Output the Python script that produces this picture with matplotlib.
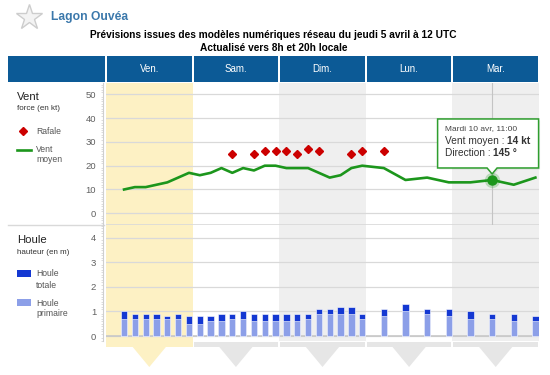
"""
Prévisions vent / houle - Lagon Ouvéa (recreation of the meteo widget).
"""

import numpy as np
import matplotlib.pyplot as plt
from matplotlib.patches import Rectangle, Polygon
from matplotlib.ticker import MultipleLocator

plt.rcParams['font.family'] = ['Liberation Sans', 'DejaVu Sans']

W, H = 550, 375

days = ['Ven.', 'Sam.', 'Dim.', 'Lun.', 'Mar.']
day_colors = ['#fdf1c4', 'white', '#efefef', 'white', '#efefef']

# forecast times, hours since Friday 00:00 local
hours = [5, 8, 11, 14, 17, 20, 23, 26, 29, 32, 35, 38, 41, 44, 47, 50,
         53, 56, 59, 62, 65, 68, 71, 77, 83, 89, 95, 101, 107, 113, 119]

wind = [10, 11, 11, 12, 13, 15, 17, 16, 17, 19, 17, 19, 18, 20, 20, 19,
        19, 19, 17, 15, 16, 19, 20, 19, 14, 15, 13, 13, 14, 12, 15]

nan = np.nan
gust = [nan, nan, nan, nan, nan, nan, nan, nan, nan, nan, 25, nan, 25, 26, 26, 26,
        25, 27, 26, nan, nan, 25, 26, 26, nan, nan, nan, nan, nan, nan, nan]

swell_total = [1.0, 0.9, 0.9, 0.9, 0.8, 0.9, 0.8, 0.8, 0.8, 0.9, 0.9, 1.0, 0.9, 0.9, 0.9, 0.9,
               0.9, 0.9, 1.1, 1.1, 1.2, 1.2, 0.9, 1.1, 1.3, 1.1, 1.1, 1.0, 0.9, 0.9, 0.8]
swell_primary = [0.7, 0.7, 0.7, 0.7, 0.7, 0.7, 0.5, 0.5, 0.6, 0.6, 0.7, 0.7, 0.6, 0.6, 0.6, 0.6,
                 0.6, 0.7, 0.9, 0.9, 0.9, 0.9, 0.7, 0.8, 1.0, 0.9, 0.8, 0.7, 0.7, 0.6, 0.6]

tip_hour = 107
tip_label = 'Mardi 10 avr, 11:00'
tip_direction = 145

HDR = '#0c5a96'
GREEN = '#1c961c'
RED = '#cc0000'
DARK = '#1438d2'
LIGHT = '#8c9fe8'
GRID = '#d9d9d9'
FOOT = '#e6e6e6'


def box(x0, y0, x1, y1):
    # pixel box (top-left origin) -> figure fraction
    return [x0 / W, 1 - y1 / H, (x1 - x0) / W, (y1 - y0) / H]


fig = plt.figure(figsize=(W / 100, H / 100), dpi=100)

bg = fig.add_axes([0, 0, 1, 1], zorder=-1)
bg.set_xlim(0, W)
bg.set_ylim(H, 0)
bg.axis('off')

X0, X1 = 106, 539
ax_head = fig.add_axes(box(X0, 56, X1, 82))
ax_w = fig.add_axes(box(X0, 83, X1, 225))
ax_h = fig.add_axes(box(X0, 225, X1, 341))
ax_f = fig.add_axes(box(X0, 341, X1, 368))

g = 0.28  # ~1px gap between day columns, in hours

# header row
ax_head.set_xlim(0, 120)
ax_head.set_ylim(0, 1)
ax_head.axis('off')
for i, d in enumerate(days):
    ax_head.add_patch(Rectangle((24 * i + g, 0), 24 - 2 * g, 1, color=HDR, lw=0))
    ax_head.text(24 * i + 12, 0.5, d, color='white', fontsize=7, ha='center', va='center')
bg.add_patch(Rectangle((8, 56), 97, 26, color=HDR, lw=0))

# title
bg.plot(29, 17, marker='*', ms=19, mfc='#f3f3f3', mec='#cdcdcd', mew=1)
bg.text(51, 17, 'Lagon Ouvéa', color='#3b78ab', fontsize=8.7, fontweight='bold',
        ha='left', va='center')
bg.text(273, 35, 'Prévisions issues des modèles numériques réseau du jeudi 5 avril à 12 UTC',
        fontsize=7.3, fontweight='bold', ha='center', va='center')
bg.text(274, 48, 'Actualisé vers 8h et 20h locale',
        fontsize=7.3, fontweight='bold', ha='center', va='center')


def style_axis(ax, ymin, ymax, ticks, minor):
    ax.set_xlim(0, 120)
    ax.set_ylim(ymin, ymax)
    for i, c in enumerate(day_colors):
        ax.axvspan(24 * i, 24 * i + 24, color=c, lw=0, zorder=0)
    ax.set_yticks(ticks)
    ax.yaxis.set_minor_locator(MultipleLocator(minor))
    ax.set_xticks([])
    ax.grid(axis='y', color=GRID, lw=0.9, zorder=1)
    ax.set_axisbelow(True)
    for s in ['top', 'right', 'bottom']:
        ax.spines[s].set_visible(False)
    ax.spines['left'].set_color('#cfcfcf')
    ax.spines['left'].set_linewidth(0.8)
    ax.spines['left'].set_position(('outward', 2))
    ax.tick_params(axis='y', which='major', length=0, pad=5, labelsize=6.8, labelcolor='#606060')
    ax.tick_params(axis='y', which='minor', length=1.5, width=0.5, color='#cfcfcf')


# wind
style_axis(ax_w, -4.92, 54.75, range(0, 51, 10), 1)
ax_w.plot(hours, wind, color=GREEN, lw=1.9, solid_joinstyle='round', zorder=3)
ax_w.plot(hours, gust, ls='none', marker='D', ms=4, color=RED, zorder=3)
ax_w.axhline(-4.92, color=GRID, lw=1.2, zorder=2)

ti = hours.index(tip_hour)
ax_w.axvline(hours[ti], color='#c4c4c4', lw=0.8, zorder=2)
ax_w.plot(hours[ti], wind[ti], 'o', ms=11, color=GREEN, alpha=0.25, mew=0, zorder=4)
ax_w.plot(hours[ti], wind[ti], 'o', ms=6.5, color=GREEN, zorder=5)

# swell
style_axis(ax_h, -0.204, 4.53, range(0, 5), 0.1)
ax_h.bar(hours, swell_total, width=1.75, color=DARK, edgecolor='white', lw=0.4, zorder=3)
ax_h.bar(hours, swell_primary, width=1.75, color=LIGHT, edgecolor='white', lw=0.4, zorder=4)
ax_h.axhline(0, color='#c8c8c8', lw=1.2, zorder=2)

# day pointers under the chart
ax_f.set_xlim(0, 120)
ax_f.set_ylim(27, 0)
ax_f.axis('off')
for i, c in enumerate(day_colors):
    fc = c if i == 0 else FOOT
    if i == 0:
        ax_f.add_patch(Rectangle((0, 0), 24, 6, color=fc, lw=0))
    else:
        ax_f.add_patch(Rectangle((24 * i + g, 1.2), 24 - 2 * g, 4.8, color=fc, lw=0))
    cx = 24 * i + 12
    ax_f.add_patch(Polygon([(cx - 4.6, 6), (cx + 4.6, 6), (cx, 26)], closed=True, color=fc, lw=0))

# left legends
bg.plot([8, 104], [224.5, 224.5], color=GRID, lw=1)
bg.text(17, 97, 'Vent', fontsize=8.2, color='#222222', va='center')
bg.text(17, 109, 'force (en kt)', fontsize=5.8, color='#333333', va='center')
bg.plot(23, 131, ls='none', marker='D', ms=4, color=RED)
bg.text(36, 131, 'Rafale', fontsize=6.2, color='#555555', va='center')
bg.plot([17, 31], [150, 150], color=GREEN, lw=1.9)
bg.text(36, 149, 'Vent', fontsize=6.2, color='#555555', va='center')
bg.text(36, 160, 'moyen', fontsize=6.2, color='#555555', va='center')

bg.text(17, 240, 'Houle', fontsize=8.2, color='#222222', va='center')
bg.text(17, 252, 'hauteur (en m)', fontsize=5.8, color='#333333', va='center')
bg.add_patch(Rectangle((17, 270), 14, 7, color=DARK, lw=0))
bg.text(36, 274, 'Houle', fontsize=6.2, color='#555555', va='center')
bg.text(36, 285, 'totale', fontsize=6.2, color='#555555', va='center')
bg.add_patch(Rectangle((17, 299), 14, 7, color=LIGHT, lw=0))
bg.text(36, 303, 'Houle', fontsize=6.2, color='#555555', va='center')
bg.text(36, 314, 'primaire', fontsize=6.2, color='#555555', va='center')

# tooltip, anchored on the hovered point
top = fig.add_axes([0, 0, 1, 1], zorder=10)
top.set_xlim(0, W)
top.set_ylim(H, 0)
top.axis('off')
top.patch.set_alpha(0)
px, py = ax_w.transData.transform((hours[ti], wind[ti]))
py = H - py
shape = [(px - 54.5, py - 61), (px + 46.5, py - 61), (px + 46.5, py - 12),
         (px + 5, py - 12), (px, py - 6), (px - 5, py - 12), (px - 54.5, py - 12)]
shadow = [(x + 1.5, y + 1.5) for x, y in shape]
top.add_patch(Polygon(shadow, closed=True, fc='#000000', alpha=0.08, lw=0))
top.add_patch(Polygon(shape, closed=True, fc='white', ec='#2e9e2e', lw=1.1))
top.text(px - 47.5, py - 51, tip_label, fontsize=6, color='#444444', va='center')
t1 = top.text(px - 47.5, py - 39, 'Vent moyen : ', fontsize=7.3, color='#333333', va='center')
top.annotate(f'{wind[ti]} kt', xy=(1, 0), xycoords=t1, va='bottom', ha='left',
             fontsize=7.3, fontweight='bold', color='#333333')
t2 = top.text(px - 47.5, py - 27, 'Direction : ', fontsize=7.3, color='#333333', va='center')
top.annotate(f'{tip_direction} °', xy=(1, 0), xycoords=t2, va='bottom', ha='left',
             fontsize=7.3, fontweight='bold', color='#333333')

fig.savefig('out.png', dpi=100)
